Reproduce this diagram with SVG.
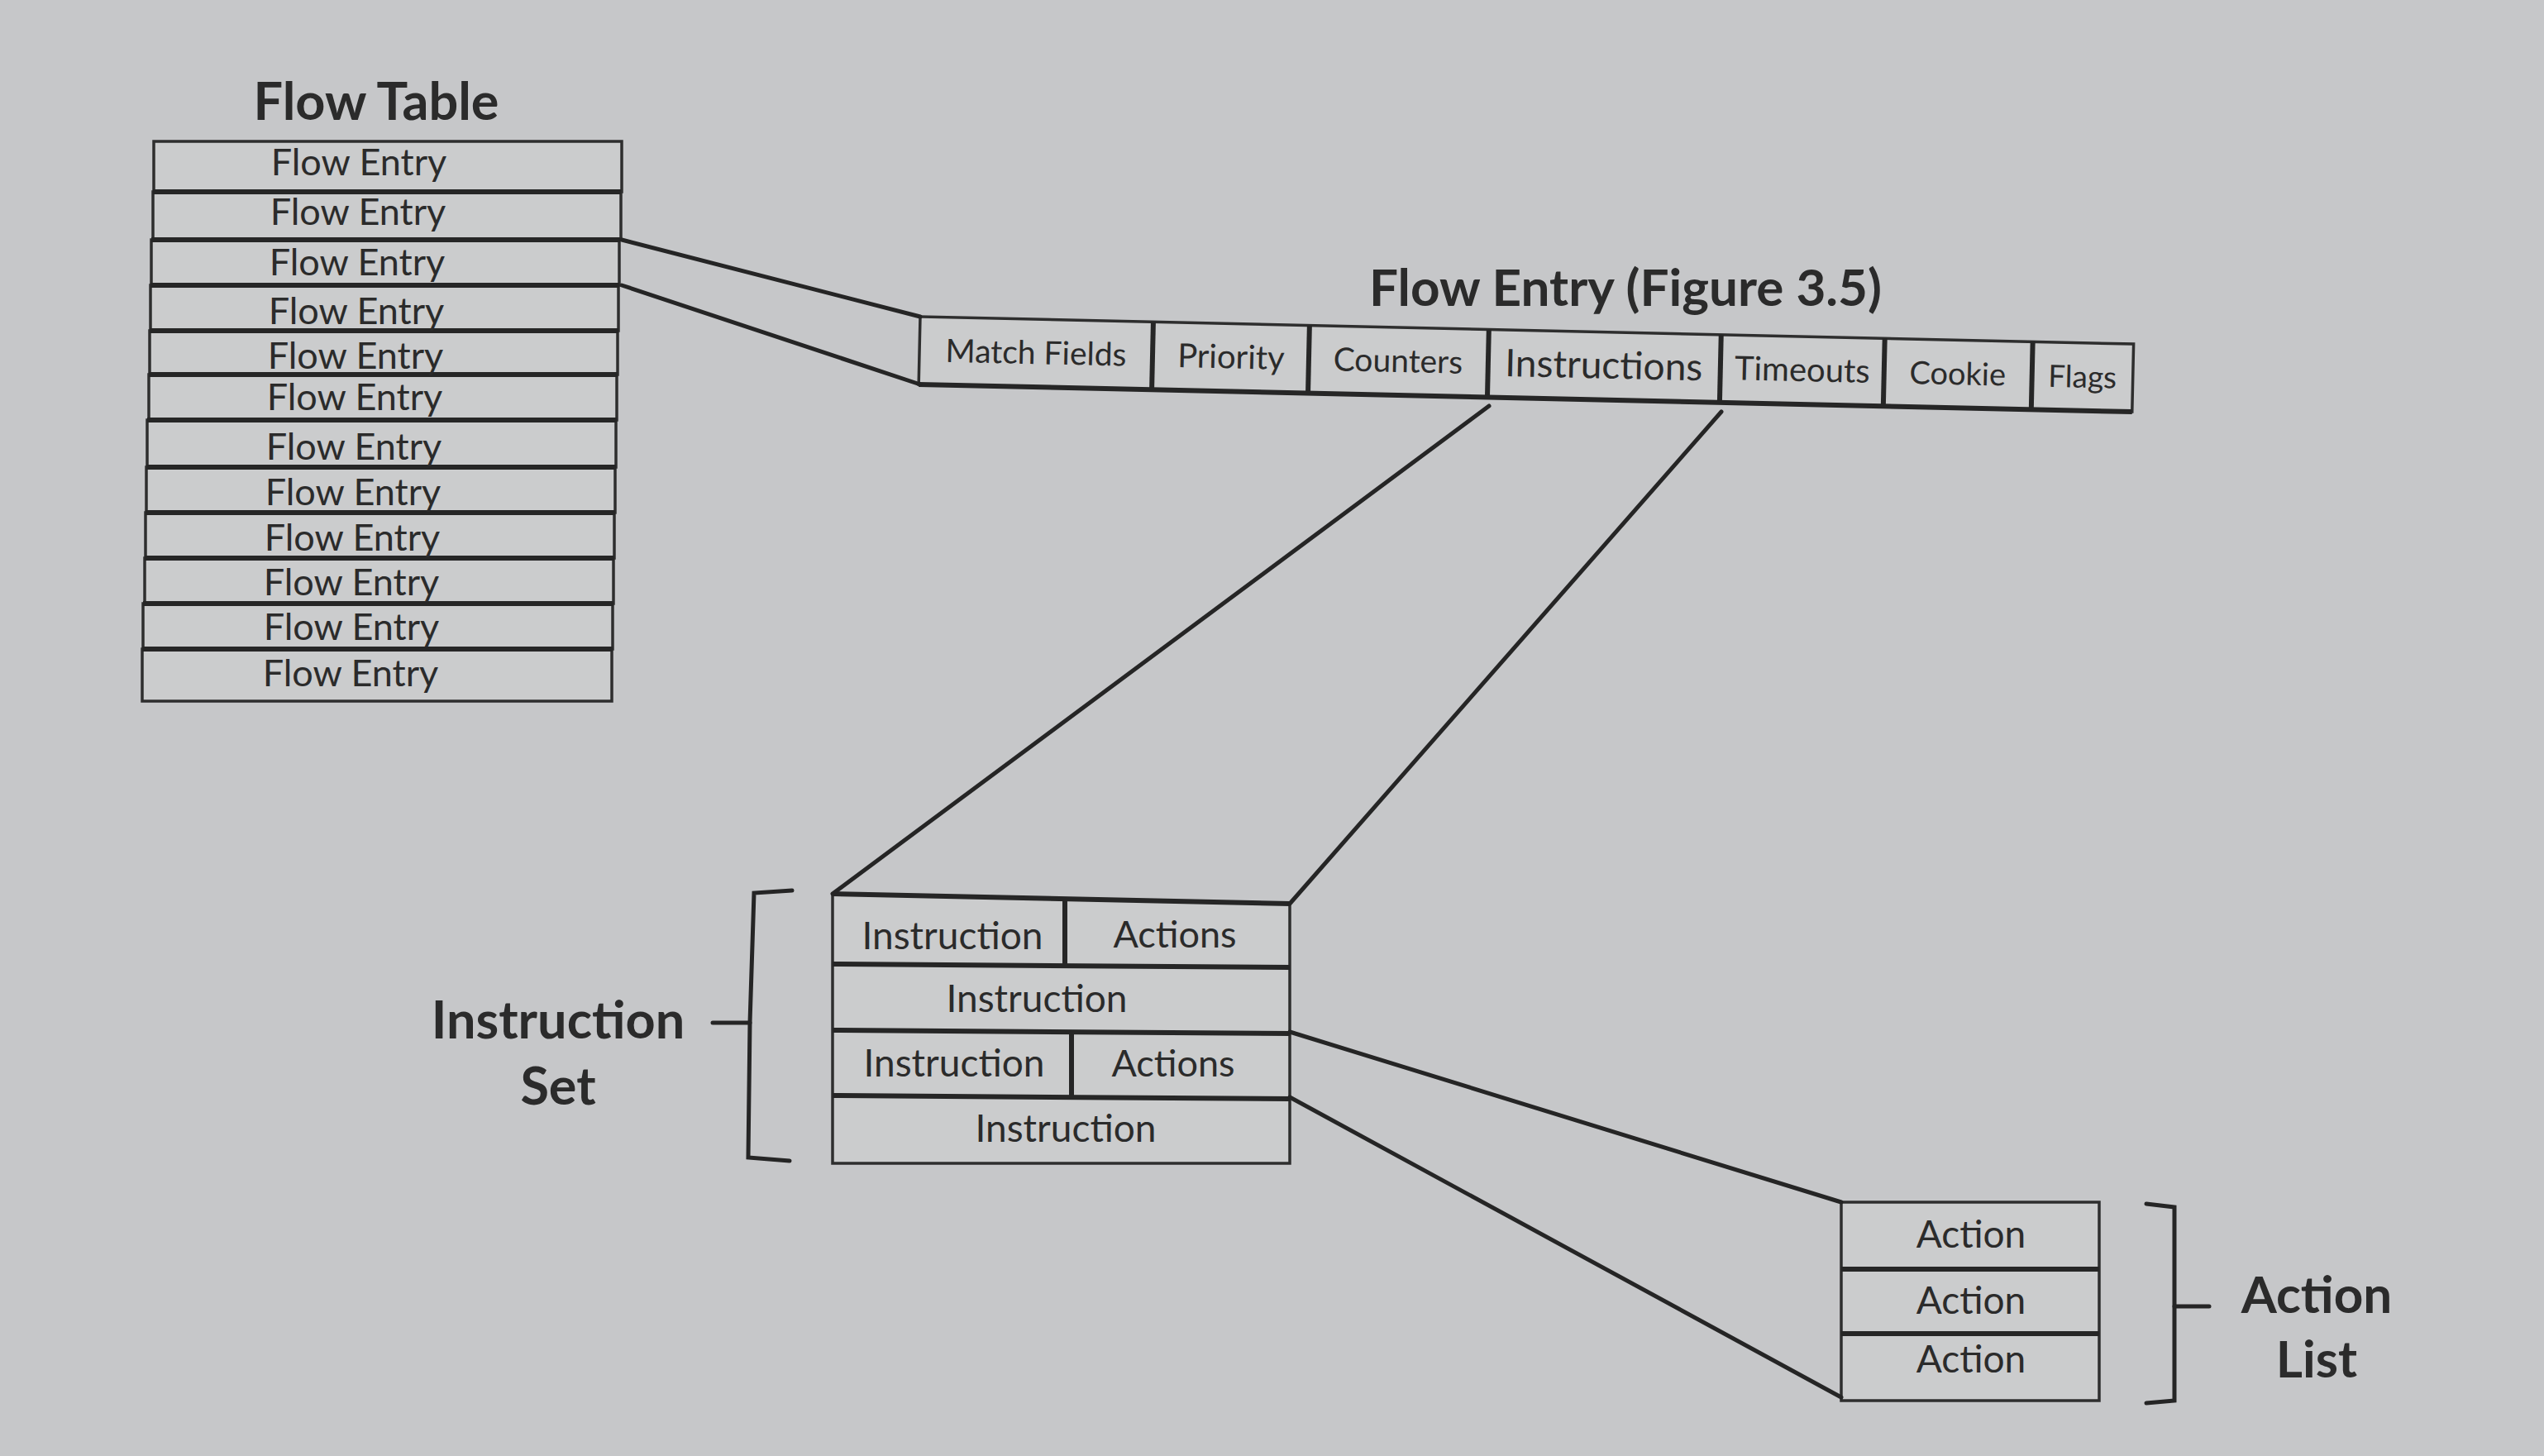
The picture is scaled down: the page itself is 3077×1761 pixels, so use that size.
<svg xmlns="http://www.w3.org/2000/svg" width="3077" height="1761" viewBox="0 0 3077 1761">
<style>
.bg{fill:#c6c7c9}
.box{fill:#cbcccd;stroke:#2e2e2e;stroke-width:3.5}
.sep{stroke:#262626;stroke-width:6}
.t{font-family:Lato,"Liberation Sans",sans-serif;fill:#2b2b2b;text-anchor:middle}
.b{font-weight:bold}
.con{stroke:#252525;stroke-width:5;fill:none;stroke-linecap:round}
</style>
<rect class="bg" x="0" y="0" width="3077" height="1761"/>

<g id="flow-table">
<text class="t b" x="455" y="145" font-size="63">Flow Table</text>
<rect class="box" x="186" y="171" width="566" height="61"/>
<rect class="box" x="185" y="232" width="566" height="58"/>
<rect class="box" x="183" y="290" width="566" height="55"/>
<rect class="box" x="182" y="345" width="566" height="55"/>
<rect class="box" x="181" y="400" width="566" height="53"/>
<rect class="box" x="180" y="453" width="566" height="55"/>
<rect class="box" x="178" y="508" width="567" height="57"/>
<rect class="box" x="177" y="565" width="567" height="55"/>
<rect class="box" x="176" y="620" width="567" height="55"/>
<rect class="box" x="175" y="675" width="567" height="55"/>
<rect class="box" x="173" y="730" width="568" height="55"/>
<rect class="box" x="172" y="785" width="568" height="63"/>
<line class="sep" x1="185" y1="232" x2="751" y2="232"/>
<line class="sep" x1="183" y1="290" x2="750" y2="290"/>
<line class="sep" x1="182" y1="345" x2="749" y2="345"/>
<line class="sep" x1="181" y1="400" x2="748" y2="400"/>
<line class="sep" x1="180" y1="453" x2="747" y2="453"/>
<line class="sep" x1="178" y1="508" x2="746" y2="508"/>
<line class="sep" x1="177" y1="565" x2="745" y2="565"/>
<line class="sep" x1="176" y1="620" x2="744" y2="620"/>
<line class="sep" x1="175" y1="675" x2="743" y2="675"/>
<line class="sep" x1="173" y1="730" x2="742" y2="730"/>
<line class="sep" x1="172" y1="785" x2="741" y2="785"/>
<g class="t" font-size="45">
<text x="434" y="212">Flow Entry</text>
<text x="433" y="272">Flow Entry</text>
<text x="432" y="333">Flow Entry</text>
<text x="431" y="392">Flow Entry</text>
<text x="430" y="446">Flow Entry</text>
<text x="429" y="496">Flow Entry</text>
<text x="428" y="556">Flow Entry</text>
<text x="427" y="611">Flow Entry</text>
<text x="426" y="666">Flow Entry</text>
<text x="425" y="720">Flow Entry</text>
<text x="425" y="774">Flow Entry</text>
<text x="424" y="830">Flow Entry</text>
</g>
</g>

<g id="flow-entry">
<text class="t b" x="1966" y="370" font-size="62">Flow Entry (Figure 3.5)</text>
<g transform="rotate(1.29 1113 383)">
<rect class="box" x="1113" y="383" width="1468" height="82"/>
<line class="sep" x1="1395" y1="383" x2="1395" y2="465"/>
<line class="sep" x1="1584" y1="383" x2="1584" y2="465"/>
<line class="sep" x1="1801" y1="383" x2="1801" y2="465"/>
<line class="sep" x1="2082" y1="383" x2="2082" y2="465"/>
<line class="sep" x1="2280" y1="383" x2="2280" y2="465"/>
<line class="sep" x1="2459" y1="383" x2="2459" y2="465"/>
<line class="sep" x1="1113" y1="465" x2="2581" y2="465"/>
<text class="t" x="1254" y="437" font-size="39">Match Fields</text>
<text class="t" x="1490" y="437" font-size="40">Priority</text>
<text class="t" x="1692" y="437" font-size="39">Counters</text>
<text class="t" x="1941" y="439" font-size="46">Instructions</text>
<text class="t" x="2181" y="437" font-size="40">Timeouts</text>
<text class="t" x="2369" y="437" font-size="38">Cookie</text>
<text class="t" x="2520" y="437" font-size="37">Flags</text>
</g>
</g>

<g id="instruction-set">
<polygon class="box" points="1007,1081 1560,1093 1560,1407 1007,1407"/>
<line class="sep" x1="1007" y1="1081" x2="1560" y2="1093"/>
<line class="sep" x1="1007" y1="1166" x2="1560" y2="1170"/>
<line class="sep" x1="1007" y1="1246" x2="1560" y2="1250"/>
<line class="sep" x1="1007" y1="1325" x2="1560" y2="1329"/>
<line class="sep" x1="1288" y1="1087" x2="1288" y2="1168"/>
<line class="sep" x1="1296" y1="1248" x2="1296" y2="1327"/>
<g class="t" font-size="46">
<text x="1152" y="1148">Instruction</text>
<text x="1421" y="1146" font-size="45">Actions</text>
<text x="1254" y="1224">Instruction</text>
<text x="1154" y="1302">Instruction</text>
<text x="1419" y="1302" font-size="45">Actions</text>
<text x="1289" y="1381">Instruction</text>
</g>
<path class="con" d="M958,1077 L912,1080 L907,1237 L905,1400 L955,1404"/>
<line class="con" x1="862" y1="1237" x2="907" y2="1237"/>
<text class="t b" x="675" y="1256" font-size="63">Instruction</text>
<text class="t b" x="675" y="1336" font-size="63">Set</text>
</g>

<g id="action-list">
<rect class="box" x="2227" y="1454" width="312" height="240"/>
<line class="sep" x1="2227" y1="1535" x2="2539" y2="1535"/>
<line class="sep" x1="2227" y1="1613" x2="2539" y2="1613"/>
<g class="t" font-size="46">
<text x="2384" y="1509">Action</text>
<text x="2384" y="1589">Action</text>
<text x="2384" y="1660">Action</text>
</g>
<path class="con" d="M2596,1456 L2630,1460 L2630,1694 L2596,1697"/>
<line class="con" x1="2630" y1="1580" x2="2672" y2="1580"/>
<text class="t b" x="2802" y="1588" font-size="62">Action</text>
<text class="t b" x="2802" y="1666" font-size="62">List</text>
</g>

<g id="connectors">
<line class="con" x1="752" y1="290" x2="1113" y2="383"/>
<line class="con" x1="752" y1="345" x2="1113" y2="465"/>
<line class="con" x1="1801" y1="491" x2="1007" y2="1081"/>
<line class="con" x1="2082" y1="498" x2="1560" y2="1093"/>
<line class="con" x1="1560" y1="1248" x2="2227" y2="1454"/>
<line class="con" x1="1560" y1="1327" x2="2227" y2="1690"/>
</g>
</svg>
